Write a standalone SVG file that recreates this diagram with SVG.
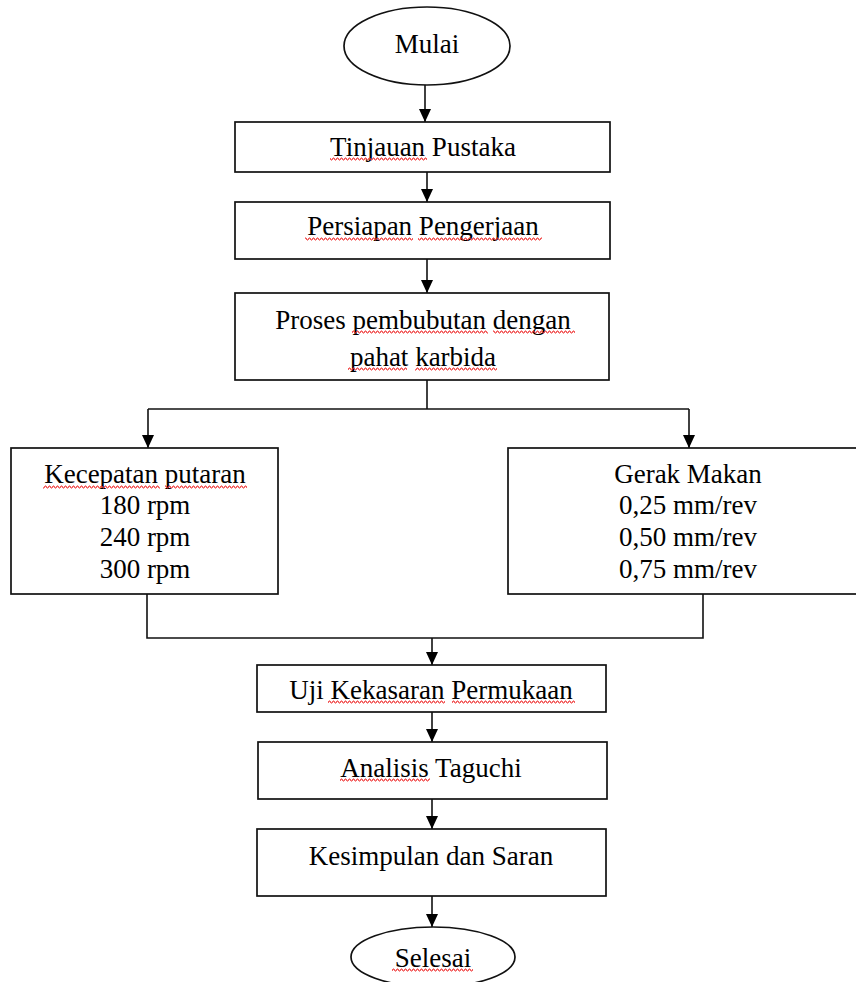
<svg xmlns="http://www.w3.org/2000/svg" width="856" height="982" viewBox="0 0 856 982">
<style>
.box{fill:#fff;stroke:#111;stroke-width:1.7}
.t{font-family:"Liberation Serif","Times New Roman",serif;font-size:27px;fill:#000;text-anchor:middle}
.c{fill:none;stroke:#111;stroke-width:1.6}
.sq{fill:url(#wave)}
</style>
<defs>
<marker id="ah" markerUnits="userSpaceOnUse" markerWidth="14" markerHeight="12" refX="13" refY="6" orient="auto">
<path d="M0,0 L13,6 L0,12 z" fill="#000"/>
</marker>
<pattern id="wave" patternUnits="userSpaceOnUse" width="4" height="4">
<path d="M0,3 L1,1 L2,1 L3,3 L4,3" fill="none" stroke="#ee2a2a" stroke-width="1"/>
</pattern>
</defs>
<rect width="856" height="982" fill="#fff"/>

<g id="connectors">
<line class="c" x1="425" y1="85" x2="425" y2="122" marker-end="url(#ah)"/>
<line class="c" x1="427" y1="172" x2="427" y2="202" marker-end="url(#ah)"/>
<line class="c" x1="427" y1="259" x2="427" y2="293" marker-end="url(#ah)"/>
<polyline class="c" points="427,380 427,409"/>
<polyline class="c" points="148,409 689,409"/>
<line class="c" x1="148" y1="409" x2="148" y2="448" marker-end="url(#ah)"/>
<line class="c" x1="689" y1="409" x2="689" y2="448" marker-end="url(#ah)"/>
<polyline class="c" points="147,594 147,638 703,638 703,594"/>
<line class="c" x1="432" y1="638" x2="432" y2="665" marker-end="url(#ah)"/>
<line class="c" x1="432" y1="712" x2="432" y2="742" marker-end="url(#ah)"/>
<line class="c" x1="432" y1="799" x2="432" y2="829" marker-end="url(#ah)"/>
<line class="c" x1="432" y1="896" x2="432" y2="927" marker-end="url(#ah)"/>
</g>

<g id="mulai">
<ellipse class="box" cx="427" cy="46" rx="83" ry="39"/>
<text class="t" x="427" y="53">Mulai</text>
</g>

<g id="tinjauan">
<rect class="box" x="235" y="122" width="375" height="50"/>
<text class="t" x="423" y="156">Tinjauan Pustaka</text>
<rect class="sq" x="330" y="0" width="97" height="4" transform="translate(0,157)"/>
</g>

<g id="persiapan">
<rect class="box" x="235" y="202" width="375" height="57"/>
<text class="t" x="423" y="235">Persiapan Pengerjaan</text>
<rect class="sq" x="305" y="0" width="108" height="4" transform="translate(0,237)"/>
<rect class="sq" x="418" y="0" width="124" height="4" transform="translate(0,237)"/>
</g>

<g id="proses">
<rect class="box" x="235" y="293" width="374" height="87"/>
<text class="t" x="423" y="329">Proses pembubutan dengan</text>
<text class="t" x="423" y="366">pahat karbida</text>
<rect class="sq" x="352" y="0" width="136" height="4" transform="translate(0,330)"/>
<rect class="sq" x="493" y="0" width="82" height="4" transform="translate(0,330)"/>
<rect class="sq" x="348" y="0" width="59" height="4" transform="translate(0,367)"/>
<rect class="sq" x="415" y="0" width="82" height="4" transform="translate(0,367)"/>
</g>

<g id="kecepatan">
<rect class="box" x="11" y="448" width="267" height="146"/>
<text class="t" x="145" y="483">Kecepatan putaran</text>
<text class="t" x="145" y="514">180 rpm</text>
<text class="t" x="145" y="546">240 rpm</text>
<text class="t" x="145" y="578">300 rpm</text>
<rect class="sq" x="43" y="0" width="117" height="4" transform="translate(0,485)"/>
<rect class="sq" x="165" y="0" width="82" height="4" transform="translate(0,485)"/>
</g>

<g id="gerak">
<rect class="box" x="508" y="448" width="360" height="146"/>
<text class="t" x="688" y="483">Gerak Makan</text>
<text class="t" x="688" y="514">0,25 mm/rev</text>
<text class="t" x="688" y="546">0,50 mm/rev</text>
<text class="t" x="688" y="578">0,75 mm/rev</text>
</g>

<g id="uji">
<rect class="box" x="257" y="665" width="349" height="47"/>
<text class="t" x="431" y="699">Uji Kekasaran Permukaan</text>
<rect class="sq" x="328" y="0" width="117" height="4" transform="translate(0,700)"/>
<rect class="sq" x="452" y="0" width="123" height="4" transform="translate(0,700)"/>
</g>

<g id="analisis">
<rect class="box" x="258" y="742" width="349" height="57"/>
<text class="t" x="431" y="777">Analisis Taguchi</text>
<rect class="sq" x="340" y="0" width="90" height="4" transform="translate(0,778)"/>
</g>

<g id="kesimpulan">
<rect class="box" x="257" y="829" width="349" height="67"/>
<text class="t" x="431" y="865">Kesimpulan dan Saran</text>
</g>

<g id="selesai">
<ellipse class="box" cx="433" cy="957" rx="82" ry="30"/>
<text class="t" x="433" y="967">Selesai</text>
<rect class="sq" x="392" y="0" width="81" height="4" transform="translate(0,968)"/>
</g>
</svg>
